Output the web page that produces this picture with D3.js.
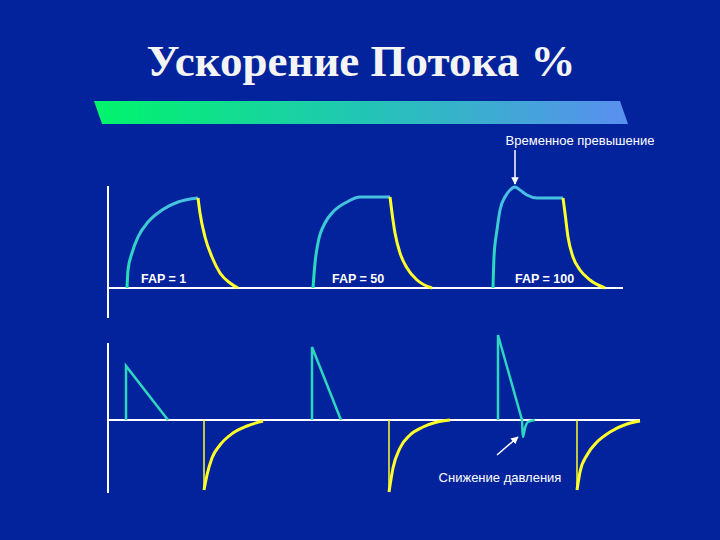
<!DOCTYPE html>
<html>
<head>
<meta charset="utf-8">
<script src="https://cdn.jsdelivr.net/npm/d3@7"></script>
<style>
    html, body { margin: 0; padding: 0; background: #02239b; }
    svg { display: block; }
</style>
</head>
<body>
<div id="chart"></div>
<script>
// time in ms along both panels, flow (%) on top, pressure change below
const title = "Ускорение Потока %";
const fapLabels = ["FAP = 1", "FAP = 50", "FAP = 100"];
const fapLabelT = [33, 224, 407];

// top panel: rising flow (green) and falling flow (yellow) for each FAP
const flowRise = [
    [[19, 0], [20, 18], [24, 35], [30, 51], [40, 66], [54, 78], [70, 86], [90, 90]],
    [[205, 0], [207, 25], [210, 45], [217, 65], [225, 76], [239, 86], [252, 91], [282, 91]],
    [[385, 0], [386, 31], [389, 58], [392, 78], [397, 91], [402, 98], [407, 101], [412, 98], [419, 93], [429, 90], [455, 90]]
];
const flowFall = [
    [[90, 90], [92, 75], [97, 51], [104, 31], [112, 15], [122, 5], [130, 0]],
    [[282, 91], [284, 75], [287, 55], [292, 35], [299, 20], [309, 8], [324, 0]],
    [[455, 90], [457, 75], [460, 51], [465, 31], [472, 18], [482, 8], [497, 0]]
];

// bottom panel: pressure spikes
const spikeOnset = [18, 204, 390];
const spikePeak = [54, 73, 85];
const spikeEnd = [60, 233, 414];
const undershoot = [[414, 2], [415, -17], [417, -8], [420, -2], [427, 0]];
const dropOnset = [96, 281, 469];
const dropDepth = [-70, -72, -70];
const dropRecover = [
    [[96, -70], [99, -55], [104, -38], [112, -25], [125, -13], [139, -6], [155, -1]],
    [[281, -72], [285, -48], [292, -28], [302, -15], [315, -7], [329, -2], [342, 0]],
    [[469, -70], [472, -52], [479, -35], [489, -22], [502, -12], [519, -4], [532, -1]]
];

const width = 720, height = 540;
const green = "#2fd6bf", yellow = "#ffff2a", white = "#ffffff";

const svg = d3.select("#chart").append("svg")
    .attr("width", width)
    .attr("height", height)
    .style("background", "#02239b");

const defs = svg.append("defs");
const band = defs.append("linearGradient").attr("id", "band");
band.append("stop").attr("offset", "0%").attr("stop-color", "#00f56a");
band.append("stop").attr("offset", "50%").attr("stop-color", "#22c6b4");
band.append("stop").attr("offset", "100%").attr("stop-color", "#5a8ff0");

const riseGrad = defs.append("linearGradient")
    .attr("id", "rise")
    .attr("gradientUnits", "userSpaceOnUse")
    .attr("x1", 0).attr("y1", 288).attr("x2", 0).attr("y2", 188);
riseGrad.append("stop").attr("offset", "0%").attr("stop-color", "#22e0b4");
riseGrad.append("stop").attr("offset", "100%").attr("stop-color", "#4cbde6");

defs.append("marker")
    .attr("id", "head")
    .attr("viewBox", "0 0 10 10")
    .attr("refX", 9).attr("refY", 5)
    .attr("markerWidth", 5).attr("markerHeight", 5)
    .attr("orient", "auto")
    .append("path")
    .attr("d", "M0,0L10,5L0,10Z")
    .attr("fill", white);

// title + band
svg.append("text")
    .text(title)
    .attr("x", 361)
    .attr("y", 76)
    .attr("text-anchor", "middle")
    .attr("font-family", "'Liberation Serif', 'DejaVu Serif', serif")
    .attr("font-weight", "bold")
    .attr("font-size", 45)
    .attr("fill", "#f4f4f4");

svg.append("polygon")
    .attr("points", "94,101 620,101 628,124 102,124")
    .attr("fill", "url(#band)");

// scales
const x = d3.scaleLinear().domain([0, 532]).range([108, 640]);
const yTop = d3.scaleLinear().domain([-30, 102]).range([318, 186]);
const yBot = d3.scaleLinear().domain([-73, 77]).range([493, 343]);

const topLine = d3.line()
    .x(d => x(d[0]))
    .y(d => yTop(d[1]))
    .curve(d3.curveMonotoneX);
const botLine = d3.line()
    .x(d => x(d[0]))
    .y(d => yBot(d[1]));

// top axes
const topAxes = svg.append("g").attr("stroke", white).attr("stroke-width", 2);
topAxes.append("line")
    .attr("x1", x(0)).attr("x2", x(0))
    .attr("y1", yTop(102)).attr("y2", yTop(-30));
topAxes.append("line")
    .attr("x1", x(0)).attr("x2", x(515))
    .attr("y1", yTop(0)).attr("y2", yTop(0));

svg.append("g").selectAll("path")
    .data(flowRise)
    .enter()
    .append("path")
    .attr("d", topLine)
    .attr("fill", "none")
    .attr("stroke", "url(#rise)")
    .attr("stroke-width", 3);

svg.append("g").selectAll("path")
    .data(flowFall)
    .enter()
    .append("path")
    .attr("d", topLine)
    .attr("fill", "none")
    .attr("stroke", yellow)
    .attr("stroke-width", 3);

svg.append("g").selectAll("text")
    .data(fapLabels)
    .enter()
    .append("text")
    .text(d => d)
    .attr("x", (d, i) => x(fapLabelT[i]))
    .attr("y", yTop(5))
    .attr("font-family", "'Liberation Sans', Arial, sans-serif")
    .attr("font-weight", "bold")
    .attr("font-size", 12.5)
    .attr("fill", white);

// overshoot note
svg.append("text")
    .text("Временное превышение")
    .attr("x", 580)
    .attr("y", 145)
    .attr("text-anchor", "middle")
    .attr("font-family", "'Liberation Sans', Arial, sans-serif")
    .attr("font-size", 13)
    .attr("fill", white);
svg.append("line")
    .attr("x1", x(407)).attr("x2", x(407))
    .attr("y1", yTop(138)).attr("y2", yTop(104))
    .attr("stroke", white)
    .attr("stroke-width", 1.5)
    .attr("marker-end", "url(#head)");

// bottom axes
const botAxes = svg.append("g").attr("stroke", white).attr("stroke-width", 2);
botAxes.append("line")
    .attr("x1", x(0)).attr("x2", x(0))
    .attr("y1", yBot(77)).attr("y2", yBot(-73));

// green spikes
svg.append("g").selectAll("path")
    .data(spikeOnset)
    .enter()
    .append("path")
    .attr("d", (d, i) => botLine([[d, 0], [d, spikePeak[i]], [spikeEnd[i], 0]]))
    .attr("fill", "none")
    .attr("stroke", green)
    .attr("stroke-width", 2.5)
    .attr("stroke-linejoin", "miter");

svg.append("path")
    .attr("d", botLine.curve(d3.curveMonotoneX)(undershoot))
    .attr("fill", "none")
    .attr("stroke", green)
    .attr("stroke-width", 2.5);
botLine.curve(d3.curveLinear);

// yellow drops
svg.append("g").selectAll("line")
    .data(dropOnset)
    .enter()
    .append("line")
    .attr("x1", d => x(d)).attr("x2", d => x(d))
    .attr("y1", yBot(0)).attr("y2", (d, i) => yBot(dropDepth[i]))
    .attr("stroke", yellow)
    .attr("stroke-width", 1.5);

svg.append("g").selectAll("path")
    .data(dropRecover)
    .enter()
    .append("path")
    .attr("d", d => botLine.curve(d3.curveMonotoneX)(d))
    .attr("fill", "none")
    .attr("stroke", yellow)
    .attr("stroke-width", 3);

botAxes.append("line")
    .attr("x1", x(0)).attr("x2", x(532))
    .attr("y1", yBot(0)).attr("y2", yBot(0));

// pressure drop note
svg.append("line")
    .attr("x1", x(389)).attr("x2", x(410))
    .attr("y1", yBot(-35)).attr("y2", yBot(-17))
    .attr("stroke", white)
    .attr("stroke-width", 1.5)
    .attr("marker-end", "url(#head)");
svg.append("text")
    .text("Снижение давления")
    .attr("x", 500)
    .attr("y", 482)
    .attr("text-anchor", "middle")
    .attr("font-family", "'Liberation Sans', Arial, sans-serif")
    .attr("font-size", 13)
    .attr("fill", white);
</script>
</body>
</html>
